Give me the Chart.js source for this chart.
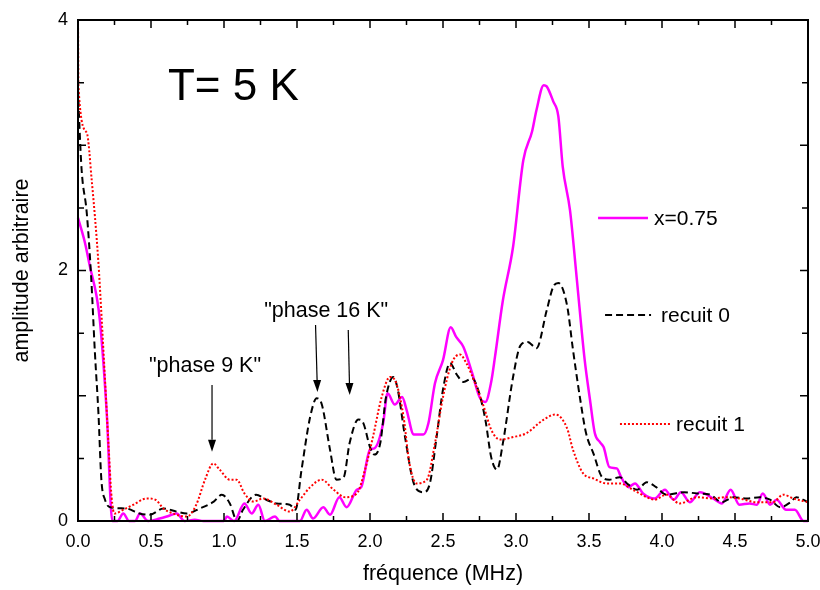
<!DOCTYPE html>
<html lang="fr">
<head>
<meta charset="UTF-8">
<title>T= 5 K</title>
<script src="https://cdn.jsdelivr.net/npm/chart.js"></script>
<style>
  body { margin: 0; background: #fff; }
  #c { display: block; }
</style>
</head>
<body>
<canvas id="c" width="820" height="590"></canvas>
<script>
// x = 0.75 (solid magenta)
const freqX075 = [0, 0.048, 0.082, 0.128, 0.15, 0.197, 0.235, 0.27, 0.31, 0.35, 0.39, 0.425, 0.48, 0.56, 0.62, 0.676, 0.73, 0.8, 0.86, 1.0, 1.02, 1.07, 1.14, 1.19, 1.235, 1.28, 1.35, 1.38, 1.52, 1.566, 1.61, 1.68, 1.726, 1.79, 1.84, 1.91, 1.94, 2.0, 2.03, 2.09, 2.12, 2.17, 2.22, 2.25, 2.30, 2.365, 2.40, 2.445, 2.50, 2.553, 2.59, 2.64, 2.70, 2.75, 2.79, 2.83, 2.856, 2.91, 2.98, 3.05, 3.11, 3.14, 3.19, 3.21, 3.255, 3.29, 3.32, 3.37, 3.415, 3.47, 3.507, 3.54, 3.575, 3.60, 3.64, 3.69, 3.72, 3.77, 3.815, 3.87, 3.95, 4.02, 4.08, 4.13, 4.19, 4.26, 4.35, 4.41, 4.47, 4.53, 4.60, 4.65, 4.69, 4.74, 4.785, 4.85, 4.91, 4.97, 5.0];
const ampX075 = [2.42, 2.22, 2.03, 1.79, 1.6, 0.86, 0, 0, 0.06, 0, 0, 0.06, 0, 0.02, 0.04, 0.06, 0, 0.01, 0, 0, 0.035, 0, 0.14, 0.06, 0.13, 0, 0.035, 0, 0, 0.09, 0.02, 0.11, 0.05, 0.19, 0.11, 0.25, 0.27, 0.57, 0.58, 0.78, 1.02, 0.93, 0.99, 0.89, 0.69, 0.69, 0.78, 1.10, 1.285, 1.547, 1.47, 1.39, 1.18, 0.99, 0.95, 1.11, 1.31, 1.76, 2.19, 2.88, 3.11, 3.28, 3.48, 3.47, 3.35, 3.23, 2.83, 2.48, 1.95, 1.29, 0.966, 0.70, 0.63, 0.59, 0.43, 0.42, 0.35, 0.27, 0.30, 0.22, 0.18, 0.25, 0.17, 0.23, 0.15, 0.23, 0.18, 0.14, 0.25, 0.13, 0.14, 0.13, 0.22, 0.13, 0.17, 0.09, 0.09, 0, 0];

// recuit 0 (black dashed)
const freqR0 = [0, 0.01, 0.025, 0.06, 0.09, 0.116, 0.14, 0.16, 0.185, 0.22, 0.33, 0.42, 0.49, 0.585, 0.675, 0.745, 0.835, 0.93, 0.985, 1.04, 1.09, 1.13, 1.22, 1.29, 1.36, 1.45, 1.49, 1.53, 1.59, 1.635, 1.67, 1.726, 1.77, 1.82, 1.86, 1.92, 1.955, 2.0, 2.03, 2.07, 2.11, 2.16, 2.19, 2.24, 2.30, 2.365, 2.41, 2.456, 2.50, 2.548, 2.594, 2.64, 2.70, 2.74, 2.79, 2.83, 2.87, 2.91, 2.98, 3.03, 3.08, 3.14, 3.21, 3.255, 3.29, 3.35, 3.39, 3.44, 3.48, 3.53, 3.59, 3.64, 3.71, 3.77, 3.83, 3.895, 3.96, 4.03, 4.15, 4.24, 4.33, 4.41, 4.49, 4.58, 4.67, 4.74, 4.81, 4.88, 4.92, 5.0];
const ampR0 = [3.45, 3.15, 2.8, 2.46, 1.95, 1.34, 0.86, 0.33, 0.17, 0.11, 0.10, 0.06, 0.05, 0.10, 0.075, 0.06, 0.10, 0.155, 0.21, 0.14, 0.0, 0.09, 0.21, 0.17, 0.14, 0.13, 0.09, 0.40, 0.83, 0.98, 0.93, 0.57, 0.33, 0.35, 0.62, 0.81, 0.78, 0.59, 0.53, 0.62, 0.99, 1.15, 1.05, 0.67, 0.30, 0.23, 0.30, 0.67, 1.05, 1.26, 1.17, 1.11, 1.14, 1.05, 0.81, 0.51, 0.41, 0.62, 1.15, 1.40, 1.43, 1.38, 1.68, 1.87, 1.90, 1.72, 1.37, 0.97, 0.70, 0.54, 0.35, 0.33, 0.35, 0.29, 0.25, 0.31, 0.27, 0.21, 0.23, 0.22, 0.21, 0.15, 0.19, 0.18, 0.19, 0.17, 0.11, 0.15, 0.19, 0.15];

// recuit 1 (red dotted)
const freqR1 = [0, 0.003, 0.06, 0.094, 0.14, 0.16, 0.185, 0.21, 0.23, 0.25, 0.31, 0.38, 0.47, 0.53, 0.585, 0.65, 0.745, 0.81, 0.87, 0.927, 0.97, 1.04, 1.087, 1.14, 1.20, 1.27, 1.36, 1.45, 1.52, 1.59, 1.67, 1.75, 1.83, 1.91, 1.966, 2.02, 2.08, 2.137, 2.18, 2.23, 2.27, 2.32, 2.39, 2.445, 2.50, 2.56, 2.616, 2.66, 2.72, 2.78, 2.83, 2.89, 2.98, 3.07, 3.19, 3.27, 3.35, 3.39, 3.46, 3.53, 3.62, 3.71, 3.80, 3.895, 3.95, 4.03, 4.12, 4.24, 4.35, 4.44, 4.53, 4.65, 4.76, 4.83, 4.90, 5.0];
const ampR1 = [4.0, 3.47, 3.10, 2.72, 2.06, 1.66, 1.13, 0.59, 0.19, 0.06, 0.09, 0.13, 0.18, 0.17, 0.10, 0.06, 0.035, 0.13, 0.33, 0.46, 0.41, 0.33, 0.33, 0.22, 0.155, 0.18, 0.13, 0.075, 0.17, 0.27, 0.33, 0.25, 0.19, 0.22, 0.41, 0.67, 0.99, 1.15, 1.10, 0.83, 0.46, 0.30, 0.33, 0.62, 0.99, 1.26, 1.33, 1.26, 1.10, 0.91, 0.73, 0.65, 0.67, 0.70, 0.81, 0.85, 0.74, 0.57, 0.38, 0.34, 0.30, 0.30, 0.25, 0.19, 0.17, 0.21, 0.14, 0.19, 0.18, 0.19, 0.18, 0.15, 0.15, 0.21, 0.18, 0.15];

const xTickLabels = ['0.0', '0.5', '1.0', '1.5', '2.0', '2.5', '3.0', '3.5', '4.0', '4.5', '5.0'];
const seriesNames = ['x=0.75', 'recuit 0', 'recuit 1'];

// annotation arrows in data units: [x1, y1, x2, y2]
const arrows = [
  [0.918, 1.086, 0.918, 0.553],
  [1.627, 1.565, 1.64, 1.03],
  [1.851, 1.525, 1.861, 1.006]
];

const FONT = "'Liberation Sans', Arial, sans-serif";
Chart.defaults.font.family = FONT;
Chart.defaults.color = '#000';

function pts(xs, ys) { return xs.map((x, i) => ({ x: x, y: ys[i] })); }

const styles = [
  { color: '#ff00ff', width: 2.5, dash: [] },
  { color: '#000000', width: 2, dash: [7, 4] },
  { color: '#ff0000', width: 2, dash: [2, 2] }
];

const frame = {
  id: 'frame',
  afterDraw(chart) {
    const { ctx, chartArea: a, scales: { x, y } } = chart;
    ctx.save();
    ctx.strokeStyle = '#000';
    // inward ticks
    ctx.lineWidth = 1.5;
    ctx.beginPath();
    for (let i = 0; i <= 20; i++) {
      const px = x.getPixelForValue(i * 0.25);
      const len = i % 2 === 0 ? 8 : 5;
      ctx.moveTo(px, a.bottom); ctx.lineTo(px, a.bottom - len);
      ctx.moveTo(px, a.top); ctx.lineTo(px, a.top + len);
    }
    for (let i = 0; i <= 8; i++) {
      const py = y.getPixelForValue(i * 0.5);
      const len = i % 2 === 0 ? 8 : 6;
      ctx.moveTo(a.left, py); ctx.lineTo(a.left + len, py);
      ctx.moveTo(a.right, py); ctx.lineTo(a.right - len, py);
    }
    ctx.stroke();
    ctx.lineWidth = 2;
    ctx.strokeRect(a.left, a.top, a.right - a.left, a.bottom - a.top);

    // texts
    ctx.fillStyle = '#000';
    ctx.textBaseline = 'alphabetic';
    ctx.font = '44px ' + FONT;
    ctx.textAlign = 'left';
    ctx.fillText('T= 5 K', x.getPixelForValue(0.616), y.getPixelForValue(3.36));
    ctx.font = '21.5px ' + FONT;
    ctx.textAlign = 'center';
    ctx.fillText('"phase 16 K"', x.getPixelForValue(1.70), y.getPixelForValue(1.63));
    ctx.fillText('"phase 9 K"', x.getPixelForValue(0.87), y.getPixelForValue(1.19));

    // arrows
    ctx.lineWidth = 1.2;
    arrows.forEach(ar => {
      const x1 = x.getPixelForValue(ar[0]), y1 = y.getPixelForValue(ar[1]);
      const x2 = x.getPixelForValue(ar[2]), y2 = y.getPixelForValue(ar[3]);
      const ang = Math.atan2(y2 - y1, x2 - x1);
      const hl = 12, hw = 4;
      const bx = x2 - hl * Math.cos(ang), by = y2 - hl * Math.sin(ang);
      ctx.beginPath();
      ctx.moveTo(x1, y1); ctx.lineTo(bx, by);
      ctx.stroke();
      ctx.beginPath();
      ctx.moveTo(x2, y2);
      ctx.lineTo(bx + hw * Math.sin(ang), by - hw * Math.cos(ang));
      ctx.lineTo(bx - hw * Math.sin(ang), by + hw * Math.cos(ang));
      ctx.closePath();
      ctx.fill();
    });

    // legend: [line start, line end, y, text x]
    const leg = [[3.562, 3.904, 2.42, 3.945], [3.61, 3.925, 1.645, 3.993], [3.712, 4.055, 0.775, 4.096]];
    ctx.textAlign = 'left';
    ctx.textBaseline = 'middle';
    ctx.font = '21px ' + FONT;
    leg.forEach((l, i) => {
      const st = styles[i];
      const py = y.getPixelForValue(l[2]);
      ctx.strokeStyle = st.color;
      ctx.lineWidth = st.width;
      ctx.setLineDash(st.dash);
      ctx.beginPath();
      ctx.moveTo(x.getPixelForValue(l[0]), py);
      ctx.lineTo(x.getPixelForValue(l[1]), py);
      ctx.stroke();
      ctx.setLineDash([]);
      ctx.fillText(seriesNames[i], x.getPixelForValue(l[3]), py + 1);
    });
    ctx.restore();
  }
};

new Chart(document.getElementById('c'), {
  type: 'scatter',
  data: {
    datasets: [
      { label: seriesNames[0], data: pts(freqX075, ampX075) },
      { label: seriesNames[1], data: pts(freqR0, ampR0) },
      { label: seriesNames[2], data: pts(freqR1, ampR1) }
    ].map((d, i) => Object.assign(d, {
      showLine: true,
      pointRadius: 0,
      borderColor: styles[i].color,
      borderWidth: styles[i].width,
      borderDash: styles[i].dash,
      cubicInterpolationMode: 'monotone',
      clip: 3
    })).reverse()
  },
  options: {
    responsive: false,
    animation: false,
    layout: { padding: { top: 20, right: 0, left: 0, bottom: 0 } },
    plugins: { legend: { display: false }, tooltip: { enabled: false } },
    scales: {
      x: {
        type: 'linear', min: 0, max: 5,
        grid: { display: false, drawTicks: false },
        border: { display: false },
        ticks: {
          stepSize: 0.5, maxRotation: 0, padding: 10,
          font: { size: 18 }, color: '#000',
          callback: (v) => xTickLabels[Math.round(v * 2)]
        },
        title: { display: true, text: 'fréquence (MHz)', font: { size: 21.5 }, color: '#000', padding: { top: 4, bottom: 3 } },
        afterFit: (s) => { s.height = 69; s.paddingLeft = 0; s.paddingRight = 12; }
      },
      y: {
        min: 0, max: 4,
        grid: { display: false, drawTicks: false },
        border: { display: false },
        ticks: { stepSize: 2, padding: 10, font: { size: 18 }, color: '#000' },
        title: { display: true, text: 'amplitude arbitraire', font: { size: 21.5 }, color: '#000', padding: { top: 9, bottom: 4 } },
        afterFit: (s) => { s.width = 78; s.paddingTop = 0; s.paddingBottom = 0; }
      }
    }
  },
  plugins: [frame]
});
</script>
</body>
</html>
